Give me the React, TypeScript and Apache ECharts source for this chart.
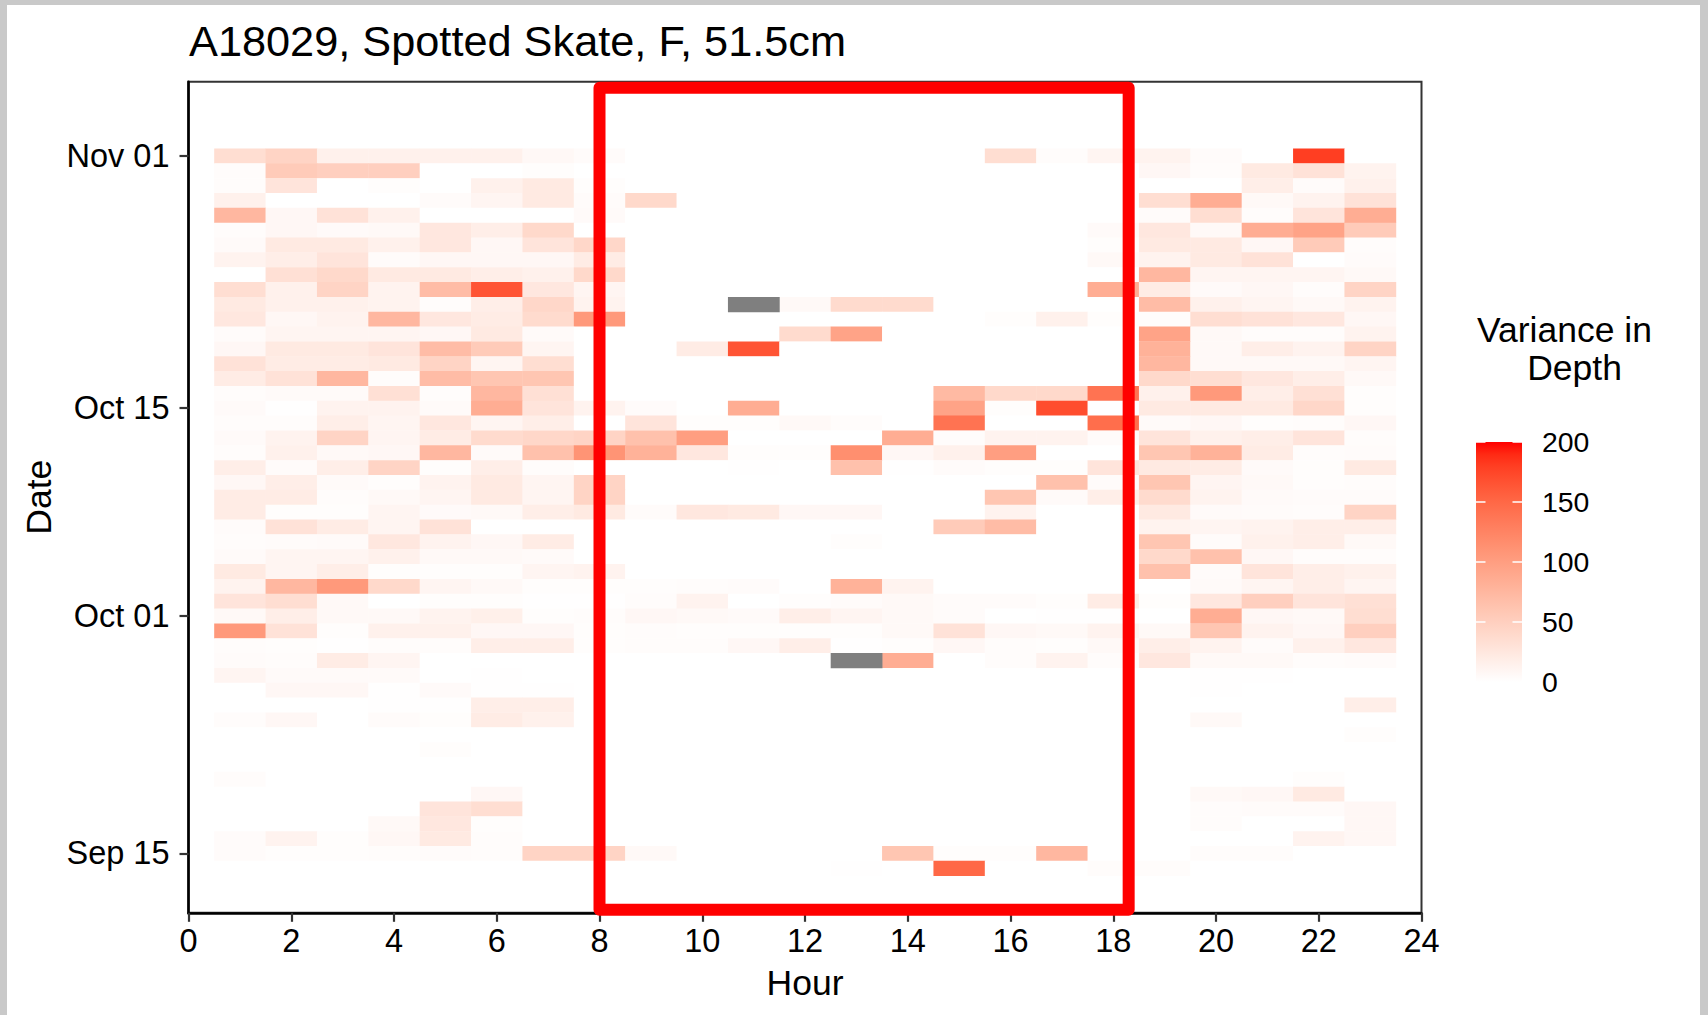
import React, { useEffect, useRef } from 'react';
import * as echarts from 'echarts';

// ---------- text ----------
const titleText = 'A18029, Spotted Skate, F, 51.5cm';
const xTitle = 'Hour';
const yTitle = 'Date';
const legendTitleLines = ['Variance in', 'Depth'];

// ---------- axes ----------
const hourAxis = ['0', '1', '2', '3', '4', '5', '6', '7', '8', '9', '10', '11', '12', '13', '14', '15', '16', '17', '18', '19', '20', '21', '22', '23', '24'];
const hourTicks = ['0', '2', '4', '6', '8', '10', '12', '14', '16', '18', '20', '22', '24'];
const dataHours = ['1', '2', '3', '4', '5', '6', '7', '8', '9', '10', '11', '12', '13', '14', '15', '16', '17', '18', '19', '20', '21', '22', '23'];

// rows of the table, top (Nov 01) to bottom (Sep 14)
const dayLabels = [
  'Nov 01', 'Oct 31', 'Oct 30', 'Oct 29', 'Oct 28', 'Oct 27', 'Oct 26', 'Oct 25', 'Oct 24', 'Oct 23',
  'Oct 22', 'Oct 21', 'Oct 20', 'Oct 19', 'Oct 18', 'Oct 17', 'Oct 16', 'Oct 15', 'Oct 14', 'Oct 13',
  'Oct 12', 'Oct 11', 'Oct 10', 'Oct 09', 'Oct 08', 'Oct 07', 'Oct 06', 'Oct 05', 'Oct 04', 'Oct 03',
  'Oct 02', 'Oct 01', 'Sep 30', 'Sep 29', 'Sep 28', 'Sep 27', 'Sep 26', 'Sep 25', 'Sep 24', 'Sep 23',
  'Sep 22', 'Sep 21', 'Sep 20', 'Sep 19', 'Sep 18', 'Sep 17', 'Sep 16', 'Sep 15', 'Sep 14',
];
const datePadBottom = ['Sep 11', 'Sep 12', 'Sep 13'];
const datePadTop = ['Nov 02', 'Nov 03', 'Nov 04', 'Nov 05', 'Nov 06'];
const dateTicks = ['Sep 15', 'Oct 01', 'Oct 15', 'Nov 01'];

// ---------- values: variance in depth, hours 1..23 (null = out of scale, grey) ----------
const variance: (number | null)[][] = [
  [35, 45, 15, 15, 15, 15, 7, 4, 0, 0, 0, 0, 0, 0, 0, 35, 3, 10, 12, 4, 0, 180, 0], // Nov 01
  [3, 55, 50, 50, 0, 0, 2, 0, 0, 0, 0, 0, 0, 0, 0, 0, 0, 0, 8, 3, 22, 30, 12], // Oct 31
  [3, 28, 0, 2, 0, 15, 22, 2, 0, 0, 0, 0, 0, 0, 0, 0, 0, 0, 0, 0, 18, 4, 15], // Oct 30
  [15, 0, 0, 0, 4, 10, 22, 4, 40, 0, 0, 0, 0, 0, 0, 0, 0, 0, 35, 85, 6, 12, 30], // Oct 29
  [75, 8, 30, 15, 0, 0, 0, 5, 0, 0, 0, 0, 0, 0, 0, 0, 0, 0, 4, 35, 3, 28, 85], // Oct 28
  [3, 8, 5, 6, 25, 18, 40, 0, 0, 0, 0, 0, 0, 0, 0, 0, 0, 5, 25, 6, 85, 95, 55], // Oct 27
  [5, 22, 22, 15, 25, 8, 28, 42, 0, 0, 0, 0, 0, 0, 0, 0, 0, 2, 22, 22, 8, 55, 3], // Oct 26
  [12, 18, 28, 4, 8, 8, 8, 20, 0, 0, 0, 0, 0, 0, 0, 0, 0, 6, 12, 22, 30, 0, 4], // Oct 25
  [0, 32, 40, 22, 22, 18, 15, 40, 0, 0, 0, 0, 0, 0, 0, 0, 0, 0, 75, 10, 10, 10, 6], // Oct 24
  [35, 15, 45, 12, 70, 165, 25, 10, 0, 0, 0, 0, 0, 0, 0, 0, 0, 85, 20, 5, 8, 3, 45], // Oct 23
  [22, 15, 15, 12, 3, 18, 42, 12, 0, 0, null, 6, 38, 38, 0, 0, 0, 0, 70, 15, 10, 6, 12], // Oct 22
  [25, 8, 12, 75, 25, 20, 38, 105, 0, 0, 0, 0, 0, 0, 0, 2, 15, 2, 3, 35, 30, 25, 8], // Oct 21
  [4, 10, 10, 10, 8, 22, 5, 0, 0, 0, 0, 38, 95, 0, 0, 0, 0, 0, 95, 6, 3, 3, 12], // Oct 20
  [8, 22, 22, 28, 70, 55, 10, 0, 0, 20, 165, 0, 0, 0, 0, 0, 0, 0, 80, 6, 18, 12, 45], // Oct 19
  [30, 20, 20, 22, 45, 10, 35, 0, 0, 0, 0, 0, 0, 0, 0, 0, 0, 0, 75, 6, 6, 6, 10], // Oct 18
  [20, 30, 75, 3, 70, 60, 60, 0, 0, 0, 0, 0, 0, 0, 0, 0, 0, 0, 40, 35, 25, 18, 6], // Oct 17
  [3, 5, 5, 32, 3, 75, 32, 0, 0, 0, 0, 0, 0, 0, 72, 40, 40, 140, 15, 105, 18, 32, 2], // Oct 16
  [5, 1, 12, 12, 5, 85, 28, 12, 4, 0, 85, 0, 0, 0, 95, 2, 170, 0, 22, 22, 22, 42, 2], // Oct 15
  [3, 3, 18, 10, 25, 10, 18, 0, 28, 2, 2, 6, 3, 0, 140, 0, 0, 145, 5, 8, 2, 3, 8], // Oct 14
  [5, 12, 45, 10, 20, 38, 42, 45, 65, 100, 0, 0, 0, 85, 3, 12, 12, 4, 28, 15, 18, 28, 3], // Oct 13
  [3, 15, 6, 8, 75, 5, 65, 110, 80, 25, 2, 2, 115, 8, 15, 100, 0, 0, 60, 80, 20, 3, 4], // Oct 12
  [18, 4, 18, 45, 2, 18, 3, 0, 0, 0, 1, 0, 65, 1, 4, 2, 2, 28, 22, 20, 5, 2, 22], // Oct 11
  [8, 18, 5, 2, 12, 22, 10, 45, 0, 0, 0, 0, 0, 0, 0, 0, 65, 4, 60, 10, 6, 2, 3], // Oct 10
  [20, 20, 3, 6, 10, 22, 10, 45, 0, 0, 0, 0, 0, 0, 0, 60, 5, 18, 38, 12, 5, 4, 4], // Oct 09
  [20, 2, 2, 10, 5, 6, 18, 22, 4, 25, 22, 8, 8, 0, 0, 12, 0, 0, 22, 5, 4, 3, 45], // Oct 08
  [4, 30, 20, 10, 30, 0, 0, 0, 0, 0, 0, 0, 0, 0, 55, 70, 0, 0, 12, 10, 12, 18, 18], // Oct 07
  [3, 4, 5, 25, 12, 8, 20, 0, 0, 0, 0, 0, 2, 0, 0, 0, 0, 0, 60, 4, 15, 18, 6], // Oct 06
  [5, 10, 10, 15, 6, 6, 5, 0, 0, 0, 0, 0, 0, 0, 0, 0, 0, 0, 40, 65, 8, 3, 3], // Oct 05
  [22, 10, 18, 2, 2, 2, 10, 12, 0, 0, 0, 0, 0, 0, 0, 0, 0, 0, 65, 4, 28, 18, 15], // Oct 04
  [12, 75, 105, 40, 10, 6, 2, 2, 2, 3, 4, 0, 80, 12, 0, 0, 0, 0, 0, 5, 10, 18, 10], // Oct 03
  [28, 35, 6, 0, 2, 2, 1, 1, 3, 12, 0, 2, 4, 6, 4, 4, 2, 20, 2, 25, 50, 28, 32], // Oct 02
  [6, 18, 6, 6, 12, 16, 2, 3, 8, 6, 5, 18, 10, 6, 4, 0, 1, 1, 0, 85, 8, 6, 35], // Oct 01
  [105, 30, 2, 15, 15, 8, 8, 2, 3, 2, 2, 2, 2, 6, 30, 8, 6, 12, 6, 60, 12, 8, 50], // Sep 30
  [3, 2, 1, 3, 3, 18, 18, 2, 3, 3, 8, 18, 1, 2, 8, 3, 2, 6, 18, 12, 4, 15, 25], // Sep 29
  [4, 3, 20, 10, 0, 0, 0, 0, 0, 0, 0, 0, null, 85, 0, 3, 12, 3, 25, 6, 6, 3, 4], // Sep 28
  [10, 5, 5, 5, 0, 1, 0, 0, 0, 0, 0, 0, 0, 0, 0, 0, 0, 0, 0, 1, 1, 0, 0], // Sep 27
  [0, 8, 8, 1, 5, 1, 1, 0, 0, 0, 0, 0, 0, 0, 0, 0, 0, 0, 0, 1, 0, 0, 0], // Sep 26
  [0, 0, 0, 1, 1, 18, 18, 0, 0, 0, 0, 0, 0, 0, 0, 0, 0, 0, 0, 0, 0, 0, 18], // Sep 25
  [3, 8, 0, 4, 2, 20, 15, 0, 0, 0, 0, 0, 0, 0, 0, 0, 0, 0, 0, 6, 0, 0, 0], // Sep 24
  [0, 0, 0, 0, 0, 0, 0, 0, 0, 0, 0, 0, 0, 0, 0, 0, 0, 0, 0, 0, 0, 0, 2], // Sep 23
  [0, 0, 0, 0, 2, 0, 0, 0, 0, 0, 0, 0, 0, 0, 0, 0, 0, 0, 0, 0, 0, 0, 0], // Sep 22
  [0, 0, 0, 0, 0, 0, 0, 0, 0, 0, 0, 0, 0, 0, 0, 0, 0, 0, 0, 0, 0, 0, 0], // Sep 21
  [3, 0, 0, 0, 0, 0, 0, 0, 0, 0, 0, 0, 0, 0, 0, 0, 0, 0, 0, 0, 0, 2, 0], // Sep 20
  [0, 0, 0, 0, 0, 8, 0, 0, 0, 0, 0, 0, 0, 0, 0, 0, 0, 0, 0, 6, 8, 22, 0], // Sep 19
  [0, 0, 0, 0, 28, 35, 0, 0, 0, 0, 0, 0, 0, 0, 0, 0, 0, 0, 0, 3, 4, 4, 8], // Sep 18
  [0, 0, 0, 6, 25, 2, 0, 0, 0, 0, 0, 0, 0, 0, 0, 0, 0, 0, 0, 3, 0, 0, 8], // Sep 17
  [4, 12, 2, 8, 22, 3, 0, 0, 0, 0, 0, 0, 0, 0, 0, 0, 0, 0, 0, 0, 0, 12, 8], // Sep 16
  [4, 2, 2, 3, 4, 3, 45, 45, 6, 0, 0, 0, 0, 60, 2, 2, 75, 0, 0, 3, 3, 0, 0], // Sep 15
  [0, 0, 0, 0, 0, 0, 0, 0, 0, 0, 0, 0, 1, 0, 150, 0, 0, 3, 3, 0, 0, 0, 0], // Sep 14
];

// colour scale limits and legend breaks
const scaleMin = 0;
const scaleMax = 200;
const legendBreaks = [0, 50, 100, 150, 200];
const naColor = '#7f7f7f';

// daylight window annotation (hours) and its vertical extent in date-axis positions
const windowHours = [8, 18.3];
const windowDatePos = [0.2, 55.6];

// ---------- Lab interpolation (white -> red), like ggplot's gradient ----------
const WREF = [0.95047, 1, 1.08883];
function s2l(c: number) { const v = c / 255; return v <= 0.04045 ? v / 12.92 : Math.pow((v + 0.055) / 1.055, 2.4); }
function l2s(v: number) { const c = Math.min(1, Math.max(0, v)); const s = c <= 0.0031308 ? 12.92 * c : 1.055 * Math.pow(c, 1 / 2.4) - 0.055; return Math.round(s * 255); }
function toLab(rgb: number[]) {
  const R = s2l(rgb[0]), G = s2l(rgb[1]), B = s2l(rgb[2]);
  const X = (0.4124564 * R + 0.3575761 * G + 0.1804375 * B) / WREF[0];
  const Y = (0.2126729 * R + 0.7151522 * G + 0.072175 * B) / WREF[1];
  const Z = (0.0193339 * R + 0.119192 * G + 0.9503041 * B) / WREF[2];
  const f = (t: number) => (t > 216 / 24389 ? Math.cbrt(t) : (24389 / 27 * t + 16) / 116);
  const fx = f(X), fy = f(Y), fz = f(Z);
  return [116 * fy - 16, 500 * (fx - fy), 200 * (fy - fz)];
}
function fromLab(lab: number[]) {
  const fy = (lab[0] + 16) / 116, fx = fy + lab[1] / 500, fz = fy - lab[2] / 200;
  const inv = (t: number) => (t * t * t > 216 / 24389 ? t * t * t : (116 * t - 16) / (24389 / 27));
  const X = inv(fx) * WREF[0], Y = inv(fy) * WREF[1], Z = inv(fz) * WREF[2];
  const R = 3.2404542 * X - 1.5371385 * Y - 0.4985314 * Z;
  const G = -0.969266 * X + 1.8760108 * Y + 0.041556 * Z;
  const B = 0.0556434 * X - 0.2040259 * Y + 1.0572252 * Z;
  return `rgb(${l2s(R)},${l2s(G)},${l2s(B)})`;
}
function labStops(lo: number[], hi: number[], n: number) {
  const a = toLab(lo), b = toLab(hi);
  const out: string[] = [];
  for (let i = 0; i < n; i++) {
    const t = i / (n - 1);
    out.push(fromLab([a[0] + (b[0] - a[0]) * t, a[1] + (b[1] - a[1]) * t, a[2] + (b[2] - a[2]) * t]));
  }
  return out;
}

const FONT = "'Liberation Sans', Arial, Helvetica, sans-serif";

// tile renderer: one cell per (hour, day), sized by the axes' own step
function tileRenderer(fixedFill?: string) {
  return (_params: any, api: any) => {
    const c = api.coord([api.value(0), api.value(1)]);
    const s = api.size([1, 1]);
    return {
      type: 'rect',
      shape: { x: c[0] - s[0] / 2, y: c[1] - s[1] / 2, width: s[0] + 0.4, height: s[1] + 0.4 },
      style: { fill: fixedFill || api.visual('color'), stroke: null },
    };
  };
}

export default function App() {
  const ref = useRef<HTMLDivElement>(null);

  useEffect(() => {
    document.body.style.margin = '0';
    const el = ref.current;
    if (!el) return;
    const chart = echarts.init(el, null, { renderer: 'svg' });

    const colors = labStops([255, 255, 255], [255, 0, 0], 21);
    const dateAxis = [...datePadBottom, ...dayLabels.slice().reverse(), ...datePadTop];

    const heatData: any[] = [];
    const naData: any[] = [];
    variance.forEach((row, r) => {
      row.forEach((v, h) => {
        if (v === null) naData.push([dataHours[h], dayLabels[r], 1]);
        else heatData.push([dataHours[h], dayLabels[r], v]);
      });
    });

    const gridLeft = 188.5, gridTop = 81.7, gridW = 1233, gridH = 831.1;

    // legend geometry
    const barX = 1476, barW = 46, barTop = 442, barBottom = 682;
    const legY = (v: number) => barBottom - ((v - scaleMin) / (scaleMax - scaleMin)) * (barBottom - barTop);

    const legendEls: any[] = [
      {
        id: 'legBar', type: 'rect', z: 50,
        shape: { x: barX, y: barTop, width: barW, height: barBottom - barTop },
        style: {
          fill: {
            type: 'linear', x: 0, y: 1, x2: 0, y2: 0,
            colorStops: colors.map((c, i) => ({ offset: i / (colors.length - 1), color: c })),
          },
        },
      },
    ];
    legendBreaks.forEach((b, i) => {
      if (b > scaleMin) {
        legendEls.push({ id: 'lt1_' + i, type: 'line', z: 51, shape: { x1: barX, y1: legY(b), x2: barX + 9.5, y2: legY(b) }, style: { stroke: '#ffffff', lineWidth: 1.5 } });
        legendEls.push({ id: 'lt2_' + i, type: 'line', z: 51, shape: { x1: barX + barW - 9.5, y1: legY(b), x2: barX + barW, y2: legY(b) }, style: { stroke: '#ffffff', lineWidth: 1.5 } });
      }
      legendEls.push({
        id: 'll_' + i, type: 'text', z: 51, x: 1542, y: legY(b),
        style: { text: String(b), fontSize: 28.4, fontFamily: FONT, fill: '#000', align: 'left', verticalAlign: 'middle', textAlign: 'left', textVerticalAlign: 'middle' },
      });
    });
    legendEls.push({
      id: 'legT1', type: 'text', z: 51, x: 1564.5, y: 330,
      style: { text: legendTitleLines[0], fontSize: 35.5, fontFamily: FONT, fill: '#000', align: 'center', verticalAlign: 'middle', textAlign: 'center', textVerticalAlign: 'middle' },
    });
    legendEls.push({
      id: 'legT2', type: 'text', z: 51, x: 1574.5, y: 368,
      style: { text: legendTitleLines[1], fontSize: 35.5, fontFamily: FONT, fill: '#000', align: 'center', verticalAlign: 'middle', textAlign: 'center', textVerticalAlign: 'middle' },
    });

    const textEls: any[] = [
      {
        id: 'title', type: 'text', z: 51, x: 189, y: 40.5,
        style: { text: titleText, fontSize: 43.3, fontFamily: FONT, fill: '#000', align: 'left', verticalAlign: 'middle', textAlign: 'left', textVerticalAlign: 'middle' },
      },
      {
        id: 'xname', type: 'text', z: 51, x: gridLeft + gridW / 2, y: 983,
        style: { text: xTitle, fontSize: 35.5, fontFamily: FONT, fill: '#000', align: 'center', verticalAlign: 'middle', textAlign: 'center', textVerticalAlign: 'middle' },
      },
      {
        id: 'yname', type: 'text', z: 51, x: 38.5, y: gridTop + gridH / 2, rotation: Math.PI / 2,
        style: { text: yTitle, fontSize: 35.5, fontFamily: FONT, fill: '#000', align: 'center', verticalAlign: 'middle', textAlign: 'center', textVerticalAlign: 'middle' },
      },
    ];

    const option: any = {
      animation: false,
      backgroundColor: 'transparent',
      grid: {
        left: gridLeft, top: gridTop, width: gridW, height: gridH,
        show: true, borderColor: '#333333', borderWidth: 2, backgroundColor: '#ffffff',
        containLabel: false, outerBoundsMode: 'none',
      },
      xAxis: {
        type: 'category', data: hourAxis, boundaryGap: false,
        axisLine: { show: true, onZero: false, lineStyle: { color: '#000', width: 2.6 } },
        axisTick: { show: true, length: 9, interval: (_i: number, v: string) => hourTicks.includes(v), lineStyle: { color: '#333', width: 2.2 } },
        axisLabel: { show: true, interval: (_i: number, v: string) => hourTicks.includes(v), margin: 12, fontSize: 32.5, fontFamily: FONT, color: '#000' },
        splitLine: { show: false },
      },
      yAxis: {
        type: 'category', data: dateAxis, boundaryGap: false,
        axisLine: { show: true, onZero: false, lineStyle: { color: '#000', width: 2.6 } },
        axisTick: { show: true, length: 9, interval: (_i: number, v: string) => dateTicks.includes(v), lineStyle: { color: '#333', width: 2.2 } },
        axisLabel: { show: true, interval: (_i: number, v: string) => dateTicks.includes(v), margin: 19, fontSize: 32.5, fontFamily: FONT, color: '#000' },
        splitLine: { show: false },
      },
      visualMap: [
        { type: 'continuous', show: false, seriesIndex: 0, dimension: 2, min: scaleMin, max: scaleMax, inRange: { color: colors } },
      ],
      series: [
        { type: 'custom', renderItem: tileRenderer(), data: heatData, encode: { x: 0, y: 1 }, z: 2, emphasis: { disabled: true }, silent: true },
        { type: 'custom', renderItem: tileRenderer(naColor), data: naData, encode: { x: 0, y: 1 }, z: 3, emphasis: { disabled: true }, silent: true },
      ],
      graphic: { elements: [...textEls, ...legendEls] },
    };

    chart.setOption(option);

    // daylight window box, positioned through the axes' own scales
    const toPx = (xv: number, yv: number) => {
      const x0 = Math.floor(xv), y0 = Math.floor(yv);
      const a = chart.convertToPixel({ gridIndex: 0 }, [x0, y0]) as number[];
      const b = chart.convertToPixel({ gridIndex: 0 }, [x0 + 1, y0 + 1]) as number[];
      return [a[0] + (b[0] - a[0]) * (xv - x0), a[1] + (b[1] - a[1]) * (yv - y0)];
    };
    const p1 = toPx(windowHours[0], windowDatePos[1]);
    const p2 = toPx(windowHours[1], windowDatePos[0]);
    chart.setOption({
      graphic: {
        elements: [
          {
            id: 'nightBox', type: 'rect', z: 100,
            shape: { x: p1[0], y: p1[1], width: p2[0] - p1[0], height: p2[1] - p1[1] },
            style: { fill: 'transparent', stroke: '#ff0000', lineWidth: 12, lineJoin: 'round' },
          },
        ],
      },
    });

    return () => chart.dispose();
  }, []);

  return (
    <div style={{ position: 'fixed', left: 0, top: 0, width: 1708, height: 1015, background: '#c9c9c9', overflow: 'hidden' }}>
      <div style={{ position: 'absolute', left: 7, top: 5, width: 1693, height: 1010, background: '#ffffff' }} />
      <div ref={ref} style={{ position: 'absolute', left: 0, top: 0, width: 1708, height: 1015 }} />
    </div>
  );
}
